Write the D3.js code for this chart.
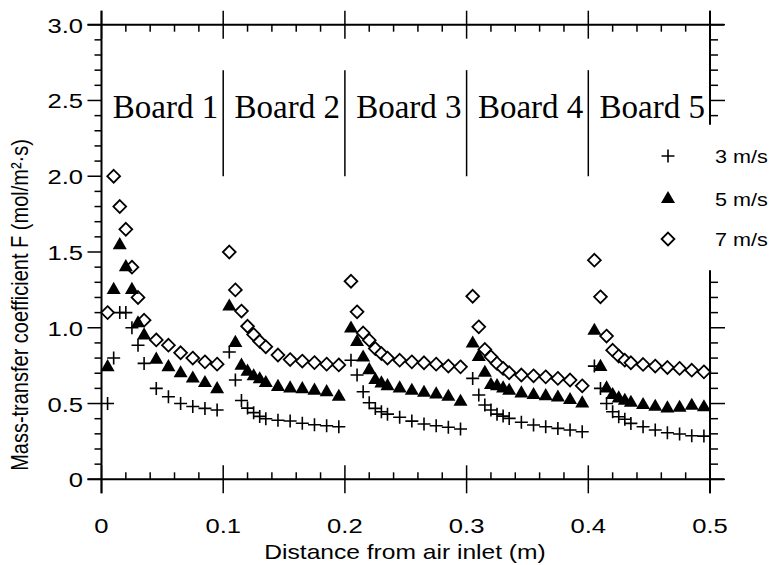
<!DOCTYPE html>
<html>
<head>
<meta charset="utf-8">
<script src="https://cdn.jsdelivr.net/npm/d3@7"></script>
<style>
body { margin: 0; background: #fff; }
svg { display: block; background: #fff; }
</style>
</head>
<body>
<svg id="chart" width="771" height="565"></svg>
<script>
// where each board starts along the duct (m)
let boardStarts = [0, 0.1, 0.2, 0.3, 0.4]
let boardNames = ["Board 1", "Board 2", "Board 3", "Board 4", "Board 5"]
// measurement positions inside one board (m)
let offsets = [0.005, 0.010, 0.015, 0.020, 0.025, 0.030, 0.035, 0.045, 0.055, 0.065, 0.075, 0.085, 0.095]
let xTickLabels = ["0", "0.1", "0.2", "0.3", "0.4", "0.5"]
let yTickLabels = ["0", "0.5", "1.0", "1.5", "2.0", "2.5", "3.0"]
let speeds = ["3 m/s", "5 m/s", "7 m/s"]

// mass-transfer coefficient F, one row per board
let f3 = [
    [0.50, 0.80, 1.10, 1.10, 1.00, 0.885, 0.765, 0.60, 0.545, 0.50, 0.48, 0.468, 0.457],
    [0.84, 0.655, 0.52, 0.47, 0.44, 0.415, 0.40, 0.39, 0.385, 0.37, 0.36, 0.353, 0.347],
    [0.786, 0.688, 0.578, 0.505, 0.468, 0.446, 0.43, 0.409, 0.384, 0.365, 0.353, 0.343, 0.332],
    [0.666, 0.556, 0.49, 0.457, 0.43, 0.417, 0.402, 0.376, 0.358, 0.347, 0.336, 0.325, 0.314],
    [0.747, 0.60, 0.50, 0.446, 0.413, 0.396, 0.369, 0.347, 0.325, 0.307, 0.299, 0.287, 0.285]
]
let f5 = [
    [0.74, 1.25, 1.545, 1.40, 1.25, 1.03, 0.95, 0.79, 0.74, 0.70, 0.665, 0.635, 0.595],
    [1.14, 0.90, 0.75, 0.71, 0.68, 0.66, 0.635, 0.61, 0.60, 0.595, 0.585, 0.575, 0.545],
    [0.995, 0.907, 0.804, 0.72, 0.655, 0.633, 0.615, 0.60, 0.584, 0.571, 0.56, 0.545, 0.512],
    [0.896, 0.808, 0.703, 0.622, 0.615, 0.60, 0.584, 0.567, 0.556, 0.549, 0.54, 0.523, 0.501],
    [0.98, 0.742, 0.60, 0.556, 0.534, 0.518, 0.505, 0.49, 0.479, 0.468, 0.472, 0.485, 0.475]
]
let f7 = [
    [1.10, 2.00, 1.80, 1.65, 1.40, 1.20, 1.05, 0.92, 0.885, 0.835, 0.80, 0.775, 0.76],
    [1.50, 1.25, 1.11, 1.01, 0.955, 0.91, 0.875, 0.82, 0.79, 0.78, 0.77, 0.76, 0.755],
    [1.307, 1.105, 0.966, 0.918, 0.863, 0.83, 0.80, 0.786, 0.775, 0.769, 0.76, 0.747, 0.742],
    [1.208, 1.006, 0.857, 0.808, 0.765, 0.732, 0.703, 0.688, 0.683, 0.676, 0.666, 0.655, 0.617],
    [1.446, 1.204, 0.945, 0.852, 0.813, 0.786, 0.769, 0.758, 0.747, 0.738, 0.732, 0.72, 0.709]
]

let svg = d3.select("#chart")
let x = d3.scaleLinear().domain([0, 0.5]).range([101.5, 710])
let y = d3.scaleLinear().domain([0, 3]).range([479.3, 24.7])
let ext = 14
let sans = "'Liberation Sans', Arial, Helvetica, sans-serif"

// turn the board rows into plain points
let toPoints = (rows) => {
    let pts = []
    rows.forEach((row, i) => {
        row.forEach((v, j) => pts.push({ x: boardStarts[i] + offsets[j], v: v }))
    })
    return pts
}

let line = (x1, y1, x2, y2, w) => {
    svg.append("line")
        .attr("x1", x1).attr("y1", y1).attr("x2", x2).attr("y2", y2)
        .attr("stroke", "#000").attr("stroke-width", w)
}

// frame
line(x(0) - ext, y(0), x(0.5) + ext, y(0), 2)
line(x(0) - ext, y(3), x(0.5) + ext, y(3), 2)
line(x(0), y(3) - ext, x(0), y(0) + ext, 2)
// right side is broken where the legend sits
let rightGap = [1.38, 2.34]
line(x(0.5), y(3) - ext, x(0.5), y(rightGap[1]), 2)
line(x(0.5), y(rightGap[0]), x(0.5), y(0) + ext, 2)

// x ticks: majors cross the line, minors point inward
let xMajor = xTickLabels.map(Number)
let xMinor = d3.range(0, 0.5001, 0.02).filter(v => !xMajor.some(m => Math.abs(m - v) < 1e-6))
xMajor.forEach(v => {
    line(x(v), y(0) - ext, x(v), y(0) + ext, 1.5)
    line(x(v), y(3) - ext, x(v), y(3) + ext, 1.5)
})
xMinor.forEach(v => {
    line(x(v), y(0) - 7, x(v), y(0), 1.5)
    line(x(v), y(3), x(v), y(3) + 7, 1.5)
})

// y ticks point outward on both sides
let yMajor = yTickLabels.map(Number)
let yAll = d3.range(0, 3.0001, 0.1)
yAll.forEach(v => {
    let isMajor = yMajor.some(m => Math.abs(m - v) < 1e-6)
    let len = isMajor ? 14 : 7
    line(x(0) - len, y(v), x(0), y(v), 1.5)
    if (v < rightGap[0] - 0.05 || v > rightGap[1] + 0.05) {
        line(x(0.5), y(v), x(0.5) + len + 1, y(v), 1.5)
    }
})

// tick labels
svg.selectAll(".xlab").data(xTickLabels).enter().append("text")
    .attr("class", "xlab")
    .attr("transform", d => `translate(${x(+d)},533) scale(1.22,1)`)
    .attr("text-anchor", "middle")
    .style("font-family", sans).style("font-size", "21px")
    .text(d => d)
svg.selectAll(".ylab").data(yTickLabels).enter().append("text")
    .attr("class", "ylab")
    .attr("transform", d => `translate(83,${y(+d) + 8}) scale(1.22,1)`)
    .attr("text-anchor", "end")
    .style("font-family", sans).style("font-size", "21px")
    .text(d => d)

// axis titles
svg.append("text")
    .attr("transform", "translate(405,559) scale(1.2,1)")
    .attr("text-anchor", "middle")
    .style("font-family", sans).style("font-size", "20.5px")
    .text("Distance from air inlet (m)")
svg.append("text")
    .attr("transform", "translate(28,305) rotate(-90) scale(1,1.2)")
    .attr("text-anchor", "middle")
    .style("font-family", sans).style("font-size", "20px")
    .text("Mass-transfer coefficient F (mol/m²·s)")

// board dividers and names
svg.selectAll(".divider").data(boardStarts.slice(1)).enter().append("line")
    .attr("class", "divider")
    .attr("x1", d => x(d)).attr("x2", d => x(d))
    .attr("y1", y(2.7)).attr("y2", y(2.0))
    .attr("stroke", "#000").attr("stroke-width", 1.5)
svg.selectAll(".board").data(boardNames).enter().append("text")
    .attr("class", "board")
    .attr("x", (d, i) => x(boardStarts[i] + 0.1) - 5)
    .attr("y", 118)
    .attr("text-anchor", "end")
    .style("font-family", "'Liberation Serif', 'Times New Roman', serif")
    .style("font-size", "33px")
    .text(d => d)

// marker shapes
let diamondPath = "M0,-6.4L6.4,0L0,6.4L-6.4,0Z"
let plusPath = "M-6.5,0H6.5M0,-6.5V6.5"
let triPath = d3.symbol(d3.symbolTriangle, 85)()

let drawMarkers = (pts, path, fill, stroke, sw) => {
    svg.append("g").selectAll("path").data(pts).enter().append("path")
        .attr("d", path)
        .attr("transform", d => `translate(${x(d.x)},${y(d.v)})`)
        .attr("fill", fill)
        .attr("stroke", stroke)
        .attr("stroke-width", sw)
}
drawMarkers(toPoints(f7), diamondPath, "#fff", "#000", 1.8)
drawMarkers(toPoints(f5), triPath, "#000", "none", 0)
drawMarkers(toPoints(f3), plusPath, "none", "#000", 1.6)

// legend
let legendRows = [156, 199, 239]
let legendShapes = [
    { d: plusPath, fill: "none", stroke: "#000", sw: 1.6 },
    { d: triPath, fill: "#000", stroke: "none", sw: 0 },
    { d: diamondPath, fill: "#fff", stroke: "#000", sw: 1.8 }
]
speeds.forEach((s, i) => {
    let sh = legendShapes[i]
    svg.append("path")
        .attr("d", sh.d)
        .attr("transform", `translate(668,${legendRows[i]})`)
        .attr("fill", sh.fill).attr("stroke", sh.stroke).attr("stroke-width", sh.sw)
    svg.append("text")
        .attr("transform", `translate(715,${legendRows[i] + 6.5}) scale(1.2,1)`)
        .style("font-family", sans).style("font-size", "18px")
        .text(s)
})
</script>
</body>
</html>
